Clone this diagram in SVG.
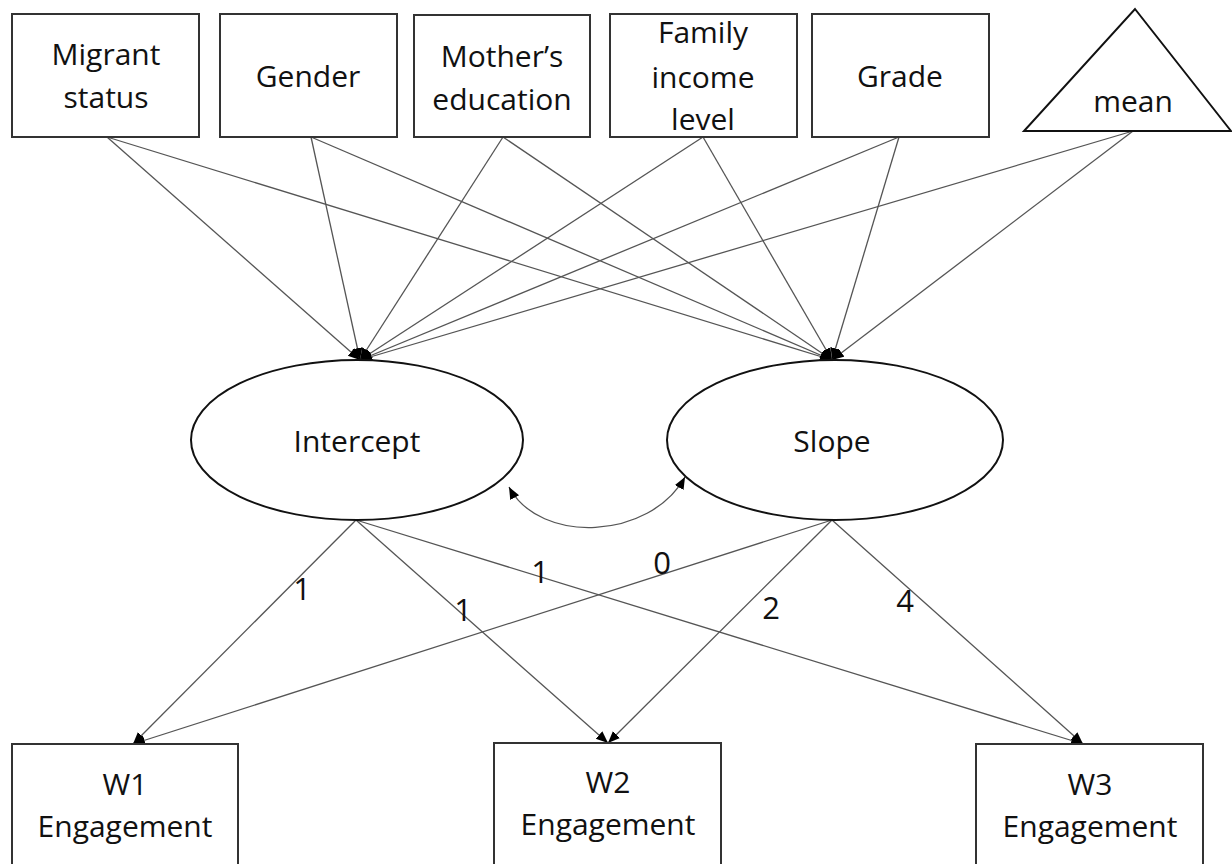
<svg xmlns="http://www.w3.org/2000/svg" width="1232" height="864" viewBox="0 0 1232 864">
<defs>
<style>
.box{fill:#fff;stroke:#333;stroke-width:2}
.ell{fill:#fff;stroke:#111;stroke-width:2}
.t{font-family:"Open Sans","Noto Sans",sans-serif;font-size:30px;fill:#111;text-anchor:middle}
.lbl{font-family:"Open Sans","Noto Sans",sans-serif;font-size:31px;fill:#111;text-anchor:middle}
.c{stroke:#555;stroke-width:1.3;fill:none;marker-end:url(#ah)}
</style>
<marker id="ah" markerUnits="userSpaceOnUse" markerWidth="14" markerHeight="12" refX="12" refY="5" orient="auto">
<path d="M0,0 L12,5 L0,10 z" fill="#000"/>
</marker>
<marker id="ah2" markerUnits="userSpaceOnUse" markerWidth="14" markerHeight="12" refX="12" refY="5" orient="auto-start-reverse">
<path d="M0,0 L12,5 L0,10 z" fill="#000"/>
</marker>
</defs>
<rect width="1232" height="864" fill="#fff"/>
<g id="connectors">
<line class="c" x1="107" y1="137" x2="360" y2="360"/>
<line class="c" x1="107" y1="137" x2="832" y2="360"/>
<line class="c" x1="311" y1="137" x2="360" y2="360"/>
<line class="c" x1="311" y1="137" x2="832" y2="360"/>
<line class="c" x1="503" y1="137" x2="360" y2="360"/>
<line class="c" x1="503" y1="137" x2="832" y2="360"/>
<line class="c" x1="703" y1="137" x2="360" y2="360"/>
<line class="c" x1="703" y1="137" x2="832" y2="360"/>
<line class="c" x1="899" y1="137" x2="360" y2="360"/>
<line class="c" x1="899" y1="137" x2="832" y2="360"/>
<line class="c" x1="1133" y1="131" x2="360" y2="360"/>
<line class="c" x1="1133" y1="131" x2="832" y2="360"/>
<line class="c" x1="356" y1="520" x2="133" y2="744"/>
<line class="c" x1="356" y1="520" x2="608" y2="743"/>
<line class="c" x1="356" y1="520" x2="1083" y2="744"/>
<line class="c" x1="832" y1="520" x2="133" y2="744"/>
<line class="c" x1="832" y1="520" x2="608" y2="743"/>
<line class="c" x1="832" y1="520" x2="1083" y2="744"/>
<path d="M509,487 C540,545 650,540 685,477" stroke="#555" stroke-width="1.3" fill="none" marker-start="url(#ah2)" marker-end="url(#ah2)"/>
<text class="lbl" x="302" y="600">1</text>
<text class="lbl" x="463" y="621">1</text>
<text class="lbl" x="540" y="583">1</text>
<text class="lbl" x="662" y="574">0</text>
<text class="lbl" x="771" y="619">2</text>
<text class="lbl" x="905" y="612">4</text>
</g>
<g id="migrant"><rect class="box" x="12" y="14" width="187" height="123"/><text class="t" x="106" y="65">Migrant</text><text class="t" x="106" y="108">status</text></g>
<g id="gender"><rect class="box" x="220" y="14" width="177" height="123"/><text class="t" x="308" y="87">Gender</text></g>
<g id="mother"><rect class="box" x="414" y="15" width="176" height="122"/><text class="t" x="502" y="67">Mother’s</text><text class="t" x="502" y="110">education</text></g>
<g id="income"><rect class="box" x="610" y="14" width="187" height="123"/><text class="t" x="703" y="43">Family</text><text class="t" x="703" y="88">income</text><text class="t" x="703" y="130">level</text></g>
<g id="grade"><rect class="box" x="812" y="14" width="177" height="123"/><text class="t" x="900" y="87">Grade</text></g>
<g id="mean"><polygon points="1135,9 1231,131 1024,131" fill="#fff" stroke="#111" stroke-width="2"/><text class="t" x="1133" y="112">mean</text></g>
<g id="intercept"><ellipse class="ell" cx="357" cy="440" rx="166" ry="80"/><text class="t" x="357" y="452">Intercept</text></g>
<g id="slope"><ellipse class="ell" cx="835" cy="440" rx="168" ry="80"/><text class="t" x="832" y="452">Slope</text></g>
<g id="w1"><rect class="box" x="12" y="744" width="226" height="130"/><text class="t" x="125" y="795">W1</text><text class="t" x="125" y="837">Engagement</text></g>
<g id="w2"><rect class="box" x="494" y="743" width="227" height="131"/><text class="t" x="608" y="793">W2</text><text class="t" x="608" y="835">Engagement</text></g>
<g id="w3"><rect class="box" x="976" y="744" width="227" height="130"/><text class="t" x="1090" y="795">W3</text><text class="t" x="1090" y="837">Engagement</text></g>
</svg>
